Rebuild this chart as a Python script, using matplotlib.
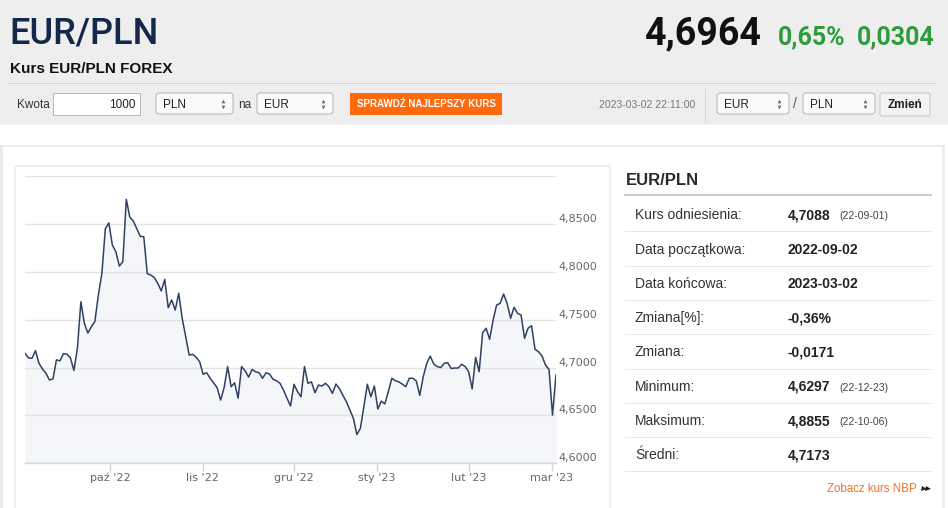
import matplotlib.pyplot as plt
import numpy as np
from matplotlib.patches import Rectangle, FancyBboxPatch
from matplotlib.transforms import blended_transform_factory, offset_copy

# EUR/PLN close values (2022-09-02 .. 2023-03-02)
eurpln = [
    4.7148, 4.7100, 4.7096, 4.7176, 4.7044, 4.6985, 4.6940, 4.6870, 4.6880, 4.7080,
    4.7070, 4.7145, 4.7140, 4.7100, 4.6970, 4.7200, 4.7687, 4.7460, 4.7360, 4.7426,
    4.7480, 4.7757, 4.7980, 4.8450, 4.8510, 4.8280, 4.8210, 4.8060, 4.8105,
    4.8756, 4.8570, 4.8530, 4.8450, 4.8370, 4.8366, 4.7980, 4.7966, 4.7940, 4.7880,
    4.7800, 4.7920, 4.7625, 4.7705, 4.7600, 4.7775, 4.7514, 4.7320, 4.7130, 4.7138,
    4.7107, 4.7060, 4.6930, 4.6946, 4.6888, 4.6840, 4.6790, 4.6660, 4.6790, 4.7010,
    4.6800,
    4.6840, 4.6680, 4.7010, 4.6967, 4.6900, 4.6980, 4.6956, 4.6946, 4.6888, 4.6946,
    4.6932, 4.6877, 4.6862, 4.6835, 4.6765, 4.6680, 4.6598, 4.6825, 4.6748, 4.6695,
    4.7010, 4.6835, 4.6850, 4.6737, 4.6817, 4.6807, 4.6835, 4.6800, 4.6730, 4.6828,
    4.6780, 4.6710, 4.6643, 4.6556, 4.6470, 4.6300, 4.6365, 4.6590, 4.6825, 4.6695,
    4.6807, 4.6567, 4.6650, 4.6620, 4.6748, 4.6888, 4.6862, 4.6850, 4.6828, 4.6800,
    4.6888, 4.6888, 4.6860, 4.6710, 4.6904, 4.7044, 4.7120, 4.7037, 4.7010, 4.7000,
    4.7044, 4.7050, 4.6990, 4.6995, 4.6995, 4.7034, 4.7010, 4.6956, 4.6776, 4.7107,
    4.6956, 4.7364, 4.7410, 4.7295, 4.7496, 4.7653, 4.7670, 4.7767, 4.7670, 4.7514,
    4.7629, 4.7566, 4.7548, 4.7305, 4.7410, 4.7437, 4.7190, 4.7165, 4.7120, 4.7026,
    4.6980, 4.6504, 4.6922,
]
month_labels = ["paź '22", "lis '22", "gru '22", "sty '23", "lut '23", "mar '23"]
month_pos = [24.3, 50.9, 77.1, 100.8, 127.0, 150.8]   # position in trading-day index
y_levels = [4.60, 4.65, 4.70, 4.75, 4.80, 4.85, 4.90]

pair = "EUR/PLN"
last_price = "4,6964"
change_pct = "0,65%"
change_abs = "0,0304"
quote_time = "2023-03-02 22:11:00"
amount = "1000"

info_labels = ["Kurs odniesienia:", "Data początkowa:", "Data końcowa:", "Zmiana[%]:",
               "Zmiana:", "Minimum:", "Maksimum:", "Średni:"]
info_values = ["4,7088", "2022-09-02", "2023-03-02", "-0,36%", "-0,0171",
               "4,6297", "4,8855", "4,7173"]
info_dates = ["(22-09-01)", "", "", "", "", "(22-12-23)", "(22-10-06)", ""]

PX = 0.72  # one pixel in points
SANS = ['Liberation Sans', 'DejaVu Sans']

fig = plt.figure(figsize=(9.48, 5.08), dpi=100, facecolor='white')

# page background drawn in pixel units
bg = fig.add_axes([0, 0, 1, 1])
bg.set_xlim(0, 948)
bg.set_ylim(508, 0)
bg.axis('off')

bg.add_patch(Rectangle((0, 0), 948, 125, color='#eeeeee', lw=0))
bg.plot([8, 935], [83, 83], color='#d2d2d2', lw=PX)

bg.text(9, 44, pair, family=['Roboto', 'DejaVu Sans'], fontsize=26, fontweight='medium',
        color='#15284b', va='baseline')
bg.text(762, 44, last_price, family=['Roboto', 'DejaVu Sans'], fontsize=27, fontweight='bold',
        color='#111111', va='baseline', ha='right')
bg.text(778, 44, change_pct, family=['Roboto', 'DejaVu Sans'], fontsize=18, fontweight='bold',
        color='#2e9b3d', va='baseline')
bg.text(935, 44, change_abs, family=['Roboto', 'DejaVu Sans'], fontsize=18, fontweight='bold',
        color='#2e9b3d', va='baseline', ha='right')
bg.text(10, 73, "Kurs EUR/PLN FOREX", family=SANS, fontsize=11, fontweight='bold',
        color='#111111', va='baseline')

# controls row
row_base = 107.5
bg.text(17, row_base, "Kwota", family=SANS, fontsize=8.5, color='#333333', va='baseline')
bg.add_patch(Rectangle((53, 93), 87, 22, fc='white', ec='#b9b9b9', lw=PX))
bg.text(136, row_base, amount, family=SANS, fontsize=8.5, color='#222222',
        va='baseline', ha='right')


def select_box(x0, x1, label):
    bg.add_patch(FancyBboxPatch((x0, 93), x1 - x0, 21, boxstyle='round,pad=0,rounding_size=3',
                                fc='#fafafa', ec='#b5b5b5', lw=PX))
    bg.text(x0 + 7, row_base, label, family=SANS, fontsize=8.5, color='#222222', va='baseline')
    bg.plot([x1 - 10], [100.5], marker='^', ms=2.6, color='#666666', mew=0)
    bg.plot([x1 - 10], [106.5], marker='v', ms=2.6, color='#666666', mew=0)


select_box(156, 233, "PLN")
bg.text(238, row_base, "na", family=SANS, fontsize=8.5, color='#333333', va='baseline')
select_box(257, 333, "EUR")

bg.add_patch(Rectangle((350, 93), 152, 22, color='#ff6a0e', lw=0))
bg.text(426, row_base - 0.5, "SPRAWDŹ NAJLEPSZY KURS", family=SANS, fontsize=7,
        fontweight='bold', color='white', va='baseline', ha='center')

bg.text(695, row_base, quote_time, family=SANS, fontsize=7.5, color='#777777',
        va='baseline', ha='right')
bg.plot([705.5, 705.5], [89, 122], color='#d6d6d6', lw=PX)
select_box(717, 789, "EUR")
bg.text(795, row_base + 1, "/", family=SANS, fontsize=10, color='#555555',
        va='baseline', ha='center')
select_box(803, 875, "PLN")
bg.add_patch(FancyBboxPatch((880, 93), 50, 23, boxstyle='round,pad=0,rounding_size=2',
                            fc='#f3f3f3', ec='#c4c4c4', lw=PX))
bg.text(905, row_base, "Zmień", family=SANS, fontsize=8.5, fontweight='bold',
        color='#1e1e1e', va='baseline', ha='center')

# lower panel frame
bg.add_patch(Rectangle((0, 144.5), 945, 2.5, color='#ececec', lw=0))
bg.add_patch(Rectangle((0, 144.5), 2.7, 364, color='#ececec', lw=0))
bg.add_patch(Rectangle((942, 144.5), 3, 364, color='#ececec', lw=0))
bg.add_patch(Rectangle((15, 166), 595, 360, fill=False, ec='#eeeeee', lw=1.4))

# info table
bg.text(626, 185, pair, family=SANS, fontsize=12, fontweight='bold', color='#2a2a2a',
        va='baseline')
bg.plot([625, 931], [195, 195], color='#cccccc', lw=1.5)
for i, (lab, val, dt) in enumerate(zip(info_labels, info_values, info_dates)):
    yc = 214.3 + 34.3 * i
    bg.text(635, yc + 5, lab, family=SANS, fontsize=10, color='#333333', va='baseline')
    bg.text(788, yc + 5, val, family=SANS, fontsize=10, fontweight='bold', color='#222222',
            va='baseline')
    if dt:
        bg.text(839, yc + 5, dt, family=SANS, fontsize=7.5, color='#444444', va='baseline')
    bg.plot([625, 931], [yc + 17, yc + 17], color='#e9e9e9', lw=PX)
bg.text(917, 492, "Zobacz kurs NBP", family=SANS, fontsize=8.3, color='#f4702a',
        va='baseline', ha='right')
for ax_ in (924, 928):
    bg.plot([ax_], [488.5], marker='>', ms=3.6, color='#222222', mew=0)

# chart
ax = fig.add_axes([25 / 948, (508 - 463.3) / 508, (556 - 25) / 948, (463.3 - 176) / 508])
ax.patch.set_visible(False)
x = np.arange(len(eurpln))
ax.fill_between(x, eurpln, y_levels[0], color='#f4f6f9', lw=0, zorder=1)
ax.plot(x, eurpln, color='#2f4162', lw=1.1, zorder=3)
ax.set_xlim(0, len(eurpln) - 1)
ax.set_ylim(y_levels[0], y_levels[-1])
ax.set_yticks(y_levels)
ax.set_axisbelow('line')
ax.yaxis.grid(True, color='#e3e3e3', lw=1.0)
ax.tick_params(axis='y', length=0, labelleft=False, labelright=False)
ax.set_xticks(month_pos, month_labels)
ax.tick_params(axis='x', direction='out', length=5.8, width=1.0, color='#ccd6eb',
               labelsize=8, labelcolor='#666666', pad=1)
for s in ['top', 'left', 'right']:
    ax.spines[s].set_visible(False)
ax.spines['bottom'].set_color('#ccd6eb')
ax.spines['bottom'].set_linewidth(1.0)

ytrans = offset_copy(blended_transform_factory(ax.transAxes, ax.transData), fig=fig,
                     x=2, y=2, units='dots')
for v in y_levels[:-1]:
    ax.text(1.0, v, f"{v:.4f}".replace('.', ','), transform=ytrans, fontsize=8,
            color='#666666', va='baseline', ha='left', clip_on=False)

fig.savefig('out.png', dpi=100, facecolor='white')
